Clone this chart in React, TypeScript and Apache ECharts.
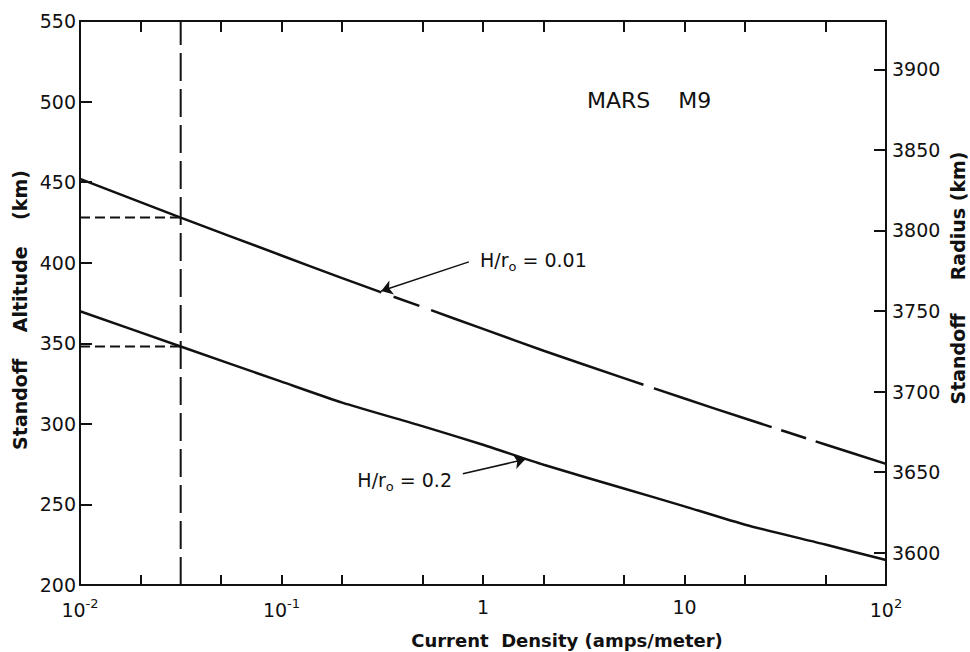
import React, { useEffect, useRef } from 'react';
import * as echarts from 'echarts';

// ---- data ----
// current density (amps/meter)
const currentDensity = [0.01, 0.0316, 0.1, 0.2, 0.5, 1, 2, 5, 10, 20, 50, 100];
// standoff altitude (km), H/r0 = 0.01
const altitudeH001 = [452, 428, 404.5, 390.4, 372.5, 358.9, 345.4, 328.4, 315.7, 303.3, 287.2, 275.2];
// standoff altitude (km), H/r0 = 0.2
const altitudeH02 = [369.9, 348, 326.2, 313.2, 298.6, 287, 274.6, 259.9, 248.8, 237.4, 225.1, 215.5];
// reference current density (vertical dashed line)
const referenceDensity = 0.0316;
// x-axis ticks and labels
const xTickValues = [0.02, 0.05, 0.1, 0.2, 0.5, 1, 2, 5, 10, 20, 50];
const xLabelValues = [0.01, 0.1, 1, 10, 100];
// radius axis (km): altitude + planet radius
const marsRadius = 3380;
const radiusTicks = [3600, 3650, 3700, 3750, 3800, 3850, 3900];
const altitudeRange = [200, 550];

const FONT = "'DejaVu Sans', sans-serif";
const INK = '#111';
const lg = (v: number) => Math.log10(v);

const toXY = (ys: number[]) => currentDensity.map((j, i) => [lg(j), ys[i]]);

export default function App() {
  const ref = useRef<HTMLDivElement>(null);
  useEffect(() => {
    const chart = echarts.init(ref.current!, null, { renderer: 'svg' });
    const refX = lg(referenceDensity);
    const xAxisBase = {
      type: 'value',
      min: lg(xLabelValues[0]),
      max: lg(xLabelValues[xLabelValues.length - 1]),
      splitLine: { show: false },
      axisLine: { show: true, onZero: false, lineStyle: { color: INK, width: 2 } },
      axisTick: {
        show: true,
        inside: true,
        length: 10,
        customValues: xTickValues.map(lg),
        lineStyle: { color: INK, width: 2 },
      },
    };
    const option: any = {
      animation: false,
      backgroundColor: '#fff',
      grid: { left: 80, top: 21, width: 806, height: 564, containLabel: false },
      xAxis: [
        {
          ...xAxisBase,
          position: 'bottom',
          axisLabel: {
            customValues: xLabelValues.map(lg),
            showMinLabel: true,
            showMaxLabel: true,
            margin: 12,
            color: INK,
            fontFamily: FONT,
            fontSize: 19,
            formatter: (v: number) => {
              const e = Math.round(v);
              if (e === 0) return '1';
              if (e === 1) return '10';
              return '10{sup|' + e + '}';
            },
            rich: {
              sup: { fontSize: 13, fontFamily: FONT, color: INK, padding: [0, 0, 12, 0] },
            },
          },
        },
        { ...xAxisBase, position: 'top', axisLabel: { show: false }, axisTick: { ...xAxisBase.axisTick, length: 11 } },
      ],
      yAxis: [
        {
          type: 'value',
          position: 'left',
          min: altitudeRange[0],
          max: altitudeRange[1],
          interval: 50,
          splitLine: { show: false },
          axisLine: { show: true, onZero: false, lineStyle: { color: INK, width: 2 } },
          axisTick: { show: true, inside: true, length: 12, lineStyle: { color: INK, width: 2 } },
          axisLabel: { margin: 4, color: INK, fontFamily: FONT, fontSize: 19 },
        },
        {
          type: 'value',
          position: 'right',
          min: altitudeRange[0] + marsRadius,
          max: altitudeRange[1] + marsRadius,
          splitLine: { show: false },
          axisLine: { show: true, onZero: false, lineStyle: { color: INK, width: 2 } },
          axisTick: { show: true, inside: true, length: 12, customValues: radiusTicks, lineStyle: { color: INK, width: 2 } },
          axisLabel: {
            customValues: radiusTicks,
            margin: 6,
            color: INK,
            fontFamily: FONT,
            fontSize: 19,
            formatter: (v: number) => String(Math.round(v)),
          },
        },
      ],
      series: [
        {
          name: 'H/r0 = 0.01',
          type: 'line',
          data: toXY(altitudeH001),
          symbol: 'none',
          smooth: 0.2,
          lineStyle: { color: INK, width: 2.5, type: [322, 13, 27, 13, 225, 11, 124, 10, 26, 10, 400] },
          markLine: {
            silent: true,
            symbol: ['none', 'arrow'],
            symbolSize: 11,
            lineStyle: { color: INK, width: 1.5, type: 'solid' },
            label: { show: false },
            data: [[{ coord: [-0.07, 400.5] }, { coord: [-0.505, 382.5] }]],
          },
        },
        {
          name: 'H/r0 = 0.2',
          type: 'line',
          data: toXY(altitudeH02),
          symbol: 'none',
          smooth: 0.2,
          lineStyle: { color: INK, width: 2.5 },
          markLine: {
            silent: true,
            symbol: ['none', 'arrow'],
            symbolSize: 11,
            lineStyle: { color: INK, width: 1.5, type: 'solid' },
            label: { show: false },
            data: [[{ coord: [-0.1, 269] }, { coord: [0.21, 278] }]],
          },
        },
        {
          name: 'reference density',
          type: 'line',
          data: [[refX, altitudeRange[0]], [refX, altitudeRange[1]]],
          symbol: 'none',
          lineStyle: { color: INK, width: 2, type: [28, 8] },
        },
        {
          name: 'reference altitude 0.01',
          type: 'line',
          data: [[lg(currentDensity[0]), altitudeH001[1]], [refX, altitudeH001[1]]],
          symbol: 'none',
          lineStyle: { color: INK, width: 2, type: [10, 5] },
        },
        {
          name: 'reference altitude 0.2',
          type: 'line',
          data: [[lg(currentDensity[0]), altitudeH02[1]], [refX, altitudeH02[1]]],
          symbol: 'none',
          lineStyle: { color: INK, width: 2, type: [10, 5] },
        },
      ],
      graphic: [
        {
          type: 'text',
          x: 587,
          y: 100,
          style: { text: 'MARS    M9', fontSize: 22, fontFamily: FONT, fill: INK, align: 'left', verticalAlign: 'middle' },
        },
        {
          type: 'text',
          x: 480,
          y: 260,
          style: {
            text: 'H/r{s|o} = 0.01',
            fontSize: 19,
            fontFamily: FONT,
            fill: INK,
            align: 'left',
            verticalAlign: 'middle',
            rich: { s: { fontSize: 13, fontFamily: FONT, fill: INK, padding: [12, 0, 0, 0] } },
          },
        },
        {
          type: 'text',
          x: 452,
          y: 480,
          style: {
            text: 'H/r{s|o} = 0.2',
            fontSize: 19,
            fontFamily: FONT,
            fill: INK,
            align: 'right',
            verticalAlign: 'middle',
            rich: { s: { fontSize: 13, fontFamily: FONT, fill: INK, padding: [12, 0, 0, 0] } },
          },
        },
        {
          type: 'text',
          x: 20,
          y: 310,
          rotation: Math.PI / 2,
          style: {
            text: 'Standoff    Altitude    (km)',
            fontSize: 19,
            fontWeight: 'bold',
            fontFamily: FONT,
            fill: INK,
            align: 'center',
            verticalAlign: 'middle',
          },
        },
        {
          type: 'text',
          x: 958,
          y: 278,
          rotation: Math.PI / 2,
          style: {
            text: 'Standoff     Radius (km)',
            fontSize: 19,
            fontWeight: 'bold',
            fontFamily: FONT,
            fill: INK,
            align: 'center',
            verticalAlign: 'middle',
          },
        },
        {
          type: 'text',
          x: 567,
          y: 640,
          style: {
            text: 'Current  Density (amps/meter)',
            fontSize: 18,
            fontWeight: 'bold',
            fontFamily: FONT,
            fill: INK,
            align: 'center',
            verticalAlign: 'middle',
          },
        },
      ],
    };
    chart.setOption(option);
    return () => chart.dispose();
  }, []);
  return (
    <div
      ref={ref}
      style={{ position: 'fixed', left: 0, top: 0, width: 970, height: 652, background: '#fff' }}
    />
  );
}
